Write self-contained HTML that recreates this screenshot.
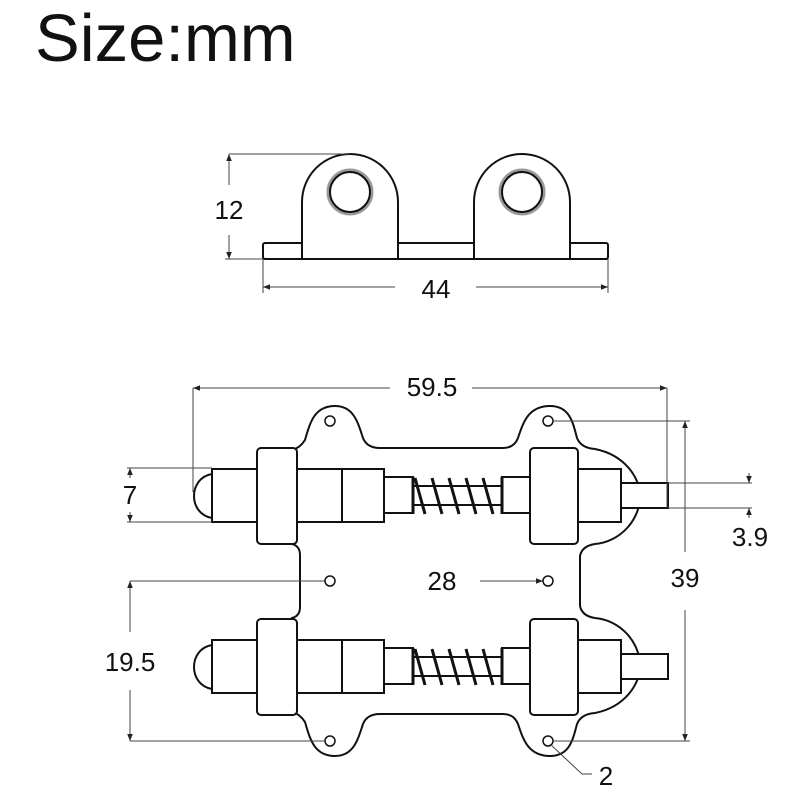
<!DOCTYPE html>
<html><head><meta charset="utf-8"><style>
html,body{margin:0;padding:0;background:#fff;}
svg{display:block;}
text{font-family:"Liberation Sans",Arial,sans-serif;fill:#111;}
</style></head><body>
<svg width="800" height="800" viewBox="0 0 800 800" xmlns="http://www.w3.org/2000/svg">
<defs>
<marker id="a" viewBox="0 0 10 10" refX="10" refY="5" markerWidth="7" markerHeight="7" orient="auto-start-reverse"><path d="M0,1 L10,5 L0,9 z" fill="#222"/></marker>
<g id="half">
  <path d="M300,581 L300,555 Q300,546 292,544 L292,450 Q300,448 305,440 C310,423 314,406 335,406 C354,406 358,423 363,438 Q367,448 380,448 L503,448 Q514,448 518,438 C523,423 528,406 550,406 C570,406 573,423 577,438 Q581,448 595,449 C625,455 640,478 640,496 C640,520 620,542 595,544 Q582,546 580,556 L580,581" fill="none" stroke="#111" stroke-width="2"/>
  <circle cx="330" cy="421" r="5" fill="#fff" stroke="#111" stroke-width="1.5"/>
  <circle cx="548" cy="421" r="5" fill="#fff" stroke="#111" stroke-width="1.5"/>
</g>
<g id="mech" stroke="#111" stroke-width="2" fill="#fff">
  <path d="M212,474 C188,478 188,514 212,518 Z"/>
  <rect x="212" y="469" width="47" height="53"/>
  <rect x="297" y="469" width="45" height="53"/>
  <rect x="342" y="469" width="42" height="53"/>
  <rect x="384" y="477" width="29" height="36"/>
  <rect x="502" y="477" width="28" height="36"/>
  <rect x="578" y="469" width="43" height="53"/>
  <rect x="621" y="483" width="47" height="25"/>
  <rect x="257" y="448" width="40" height="96" rx="4"/>
  <rect x="530" y="448" width="48" height="96" rx="4"/>
  <line x1="413" y1="486" x2="502" y2="486" stroke-width="2"/>
  <line x1="413" y1="505" x2="502" y2="505" stroke-width="2"/>
  <path d="M415,478 L425,514 M432,478 L442,514 M449,478 L459,514 M466,478 L476,514 M483,478 L493,514" fill="none" stroke-width="3"/>
  <path d="M413,477 L413,514 M502,477 L502,514" stroke-width="3"/>
</g>
</defs>

<text x="35" y="61" font-size="67">Size:mm</text>

<!-- top view -->
<g stroke="#111" stroke-width="2" fill="#fff">
  <rect x="263" y="243" width="345" height="16" rx="2"/>
  <path d="M302,259 L302,202 A48,48 0 0 1 398,202 L398,259 Z"/>
  <path d="M474,259 L474,202 A48,48 0 0 1 570,202 L570,259 Z"/>
</g>
<circle cx="350" cy="192" r="22" fill="none" stroke="#999" stroke-width="3"/>
<circle cx="350" cy="192" r="20" fill="#fff" stroke="#111" stroke-width="2"/>
<circle cx="522" cy="192" r="22" fill="none" stroke="#999" stroke-width="3"/>
<circle cx="522" cy="192" r="20" fill="#fff" stroke="#111" stroke-width="2"/>
<g stroke="#444" stroke-width="1" fill="none">
  <line x1="229" y1="154" x2="350" y2="154"/>
  <line x1="225" y1="259" x2="263" y2="259"/>
  <line x1="229" y1="154" x2="229" y2="185" marker-start="url(#a)"/>
  <line x1="229" y1="235" x2="229" y2="259" marker-end="url(#a)"/>
  <line x1="263" y1="259" x2="263" y2="293"/>
  <line x1="608" y1="259" x2="608" y2="293"/>
  <line x1="263" y1="287" x2="395" y2="287" marker-start="url(#a)"/>
  <line x1="476" y1="287" x2="608" y2="287" marker-end="url(#a)"/>
</g>
<text x="229" y="219" font-size="26" text-anchor="middle">12</text>
<text x="436" y="298" font-size="26" text-anchor="middle">44</text>

<!-- front view -->
<use href="#half"/>
<use href="#half" transform="translate(0,1162) scale(1,-1)"/>
<use href="#mech"/>
<use href="#mech" transform="translate(0,171)"/>

<g stroke="#444" stroke-width="1" fill="none">
  <line x1="193" y1="388" x2="193" y2="492"/>
  <line x1="667" y1="388" x2="667" y2="508"/>
  <line x1="193" y1="388" x2="390" y2="388" marker-start="url(#a)"/>
  <line x1="472" y1="388" x2="667" y2="388" marker-end="url(#a)"/>
  <line x1="553" y1="421" x2="690" y2="421"/>
  <line x1="553" y1="741" x2="690" y2="741"/>
  <line x1="685" y1="421" x2="685" y2="552" marker-start="url(#a)"/>
  <line x1="685" y1="610" x2="685" y2="741" marker-end="url(#a)"/>
  <line x1="668" y1="483" x2="752" y2="483"/>
  <line x1="668" y1="508" x2="752" y2="508"/>
  <line x1="749" y1="473" x2="749" y2="483" marker-end="url(#a)"/>
  <line x1="749" y1="518" x2="749" y2="508" marker-end="url(#a)"/>
  <line x1="127" y1="468" x2="212" y2="468"/>
  <line x1="127" y1="522" x2="212" y2="522"/>
  <line x1="130" y1="468" x2="130" y2="478" marker-start="url(#a)"/>
  <line x1="130" y1="512" x2="130" y2="522" marker-end="url(#a)"/>
  <line x1="130" y1="581" x2="325" y2="581"/>
  <line x1="480" y1="581" x2="543" y2="581" marker-end="url(#a)"/>
  <line x1="130" y1="741" x2="325" y2="741"/>
  <line x1="130" y1="581" x2="130" y2="632" marker-start="url(#a)"/>
  <line x1="130" y1="690" x2="130" y2="741" marker-end="url(#a)"/>
  <path d="M550,744 L582,774 L592,774"/>
</g>
<circle cx="330" cy="581" r="5" fill="#fff" stroke="#111" stroke-width="1.5"/>
<circle cx="548" cy="581" r="5" fill="#fff" stroke="#111" stroke-width="1.5"/>
<text x="432" y="396" font-size="26" text-anchor="middle">59.5</text>
<text x="685" y="587" font-size="26" text-anchor="middle">39</text>
<text x="750" y="546" font-size="26" text-anchor="middle">3.9</text>
<text x="130" y="504" font-size="26" text-anchor="middle">7</text>
<text x="442" y="590" font-size="26" text-anchor="middle">28</text>
<text x="130" y="671" font-size="26" text-anchor="middle">19.5</text>
<text x="606" y="785" font-size="26" text-anchor="middle">2</text>
</svg>
</body></html>
